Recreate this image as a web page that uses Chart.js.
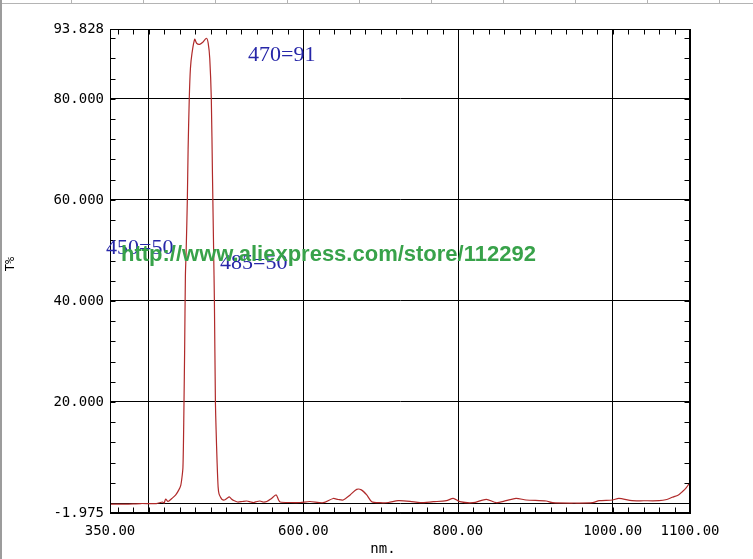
<!DOCTYPE html>
<html>
<head>
<meta charset="utf-8">
<script src="https://cdn.jsdelivr.net/npm/chart.js@4/dist/chart.umd.min.js"></script>
<style>
  body { margin: 0; background: #fff; }
  #wrap { position: relative; width: 753px; height: 559px; overflow: hidden; background: #fff; }
  #strip { position: absolute; left: 0; top: 0; width: 753px; height: 3px; border-bottom: 1px solid #b4b4b4;
    background: repeating-linear-gradient(to right, transparent 0 71px, #b4b4b4 71px 72px); }
  #edge { position: absolute; left: 0; top: 0; width: 2px; height: 559px; background: #9c9c9c; }
  canvas { position: absolute; left: 0; top: 0; }
</style>
</head>
<body>
<div id="wrap">
  <canvas id="chart" width="753" height="559"></canvas>
  <div id="strip"></div>
  <div id="edge"></div>
</div>
<script>
// spectrum (nm, T%)
const wavelengths = [
  350, 370, 390, 410, 418, 420, 422, 425, 430, 435, 439, 441.5, 443, 444.3, 445, 445.7,
  446.5, 447.5, 448.5, 450, 451, 452.5, 454, 456, 459.5, 462, 466, 470, 474.8, 477, 479,
  481, 482.5, 484, 485, 486.3, 487.2, 488.5, 489.8, 491, 492.8, 495, 497.9, 501, 504.3,
  507, 510, 515, 521, 527, 532, 535.6, 540, 544, 548, 552.8, 558, 564.8, 568, 570, 583,
  596, 608.5, 625.7, 638.6, 645, 651.5, 660.5, 669, 675, 682, 688.5, 699, 710, 722.6,
  738, 751, 768, 785, 793.8, 802.4, 819.5, 836.6, 849.5, 862, 875, 888, 914, 922.5, 950,
  974, 982.6, 999.7, 1008, 1025, 1040, 1060, 1070, 1077, 1085, 1090, 1095, 1098.5, 1100
];
const transmittance = [
  -0.2, -0.2, -0.1, -0.1, 0.2, 0.0, 0.8, 0.3, 0.9, 1.6, 2.6, 3.5, 5, 7, 12, 20,
  30, 45, 50, 60, 70, 80, 86, 89, 91.8, 91, 90.8, 91.2, 92, 91, 88,
  80, 65, 50, 40, 20, 14.5, 8, 3.2, 1.8, 1.2, 0.7, 0.6, 0.9, 1.2,
  0.8, 0.5, 0.2, 0.3, 0.4, 0.2, 0.1, 0.3, 0.4, 0.2, 0.3, 0.8, 1.6, 0.6, 0.2, 0.1,
  0.1, 0.3, 0.06, 0.9, 0.7, 0.6, 1.6, 2.7, 2.6, 1.6, 0.26, 0.06, 0.1, 0.46,
  0.33, 0.06, 0.26, 0.46, 0.93, 0.26, 0.06, 0.73, 0.06, 0.46, 0.93, 0.6, 0.4, 0.06, 0.0,
  0.06, 0.46, 0.6, 0.93, 0.46, 0.45, 0.46, 0.7, 1.13, 1.6, 2.24, 3.0, 3.76, 4.2
];

const xTickValues = [350, 400, 600, 800, 1000, 1100];
const xTickLabels = ['350.00', '', '600.00', '800.00', '1000.00', '1100.00'];
const yTickValues = [-1.975, 0, 20, 40, 60, 80, 93.828];
const yTickLabels = ['-1.975', '', '20.000', '40.000', '60.000', '80.000', '93.828'];
const notes = ['470=91', '450=50', '485=50'];
const watermark = 'http://www.aliexpress.com/store/112292';

const tickFont = { family: 'DejaVu Sans Mono', size: 14 };

// frame, small inner ticks and the texts on top
const framePlugin = {
  id: 'frame',
  afterDraw(chart) {
    const { ctx, chartArea: a, scales: { x, y } } = chart;
    ctx.save();
    ctx.strokeStyle = '#000';
    ctx.lineWidth = 1;
    const l = Math.round(a.left) + 0.5, r = Math.round(a.right) - 0.5;
    const t = Math.round(a.top) + 0.5, b = Math.round(a.bottom) - 0.5;
    ctx.strokeRect(l, t, r - l, b - t);

    ctx.beginPath();
    for (let v = 360; v < 1100; v += 20) {
      const px = Math.round(x.getPixelForValue(v)) + 0.5;
      ctx.moveTo(px, t); ctx.lineTo(px, t + 5);
      ctx.moveTo(px, b); ctx.lineTo(px, b - 5);
    }
    for (let v = 4; v < 93; v += 4) {
      const py = Math.round(y.getPixelForValue(v)) + 0.5;
      ctx.moveTo(l, py); ctx.lineTo(l + 5, py);
      ctx.moveTo(r, py); ctx.lineTo(r - 5, py);
    }
    ctx.stroke();

    // axis titles
    ctx.fillStyle = '#000';
    ctx.font = '14px "DejaVu Sans Mono"';
    ctx.textAlign = 'center';
    ctx.textBaseline = 'middle';
    ctx.fillText('nm.', 383, 549);
    ctx.save();
    ctx.translate(11, 264);
    ctx.rotate(-Math.PI / 2);
    ctx.font = '12px "DejaVu Sans Mono"';
    ctx.fillText('T%', 0, 0);
    ctx.restore();

    // peak notes
    ctx.fillStyle = '#2626a8';
    ctx.font = '22px "Liberation Serif"';
    ctx.textAlign = 'left';
    ctx.textBaseline = 'alphabetic';
    ctx.fillText(notes[0], 248, 61);
    ctx.fillText(notes[1], 106, 254);
    ctx.fillText(notes[2], 220, 269);

    // store watermark
    ctx.fillStyle = '#38a24a';
    ctx.font = 'bold 22px "Liberation Sans"';
    ctx.fillText(watermark, 121, 261);
    ctx.restore();
  }
};

new Chart(document.getElementById('chart'), {
  type: 'line',
  data: {
    datasets: [{
      data: wavelengths.map((w, i) => ({ x: w, y: transmittance[i] })),
      borderColor: '#b02a2a',
      borderWidth: 1.2,
      pointRadius: 0,
      tension: 0.25,
      fill: false
    }]
  },
  options: {
    responsive: false,
    animation: false,
    layout: { padding: { left: 0, top: 29, right: 63, bottom: 0 } },
    plugins: { legend: { display: false }, tooltip: { enabled: false } },
    scales: {
      x: {
        type: 'linear',
        min: 350,
        max: 1100,
        afterBuildTicks: s => { s.ticks = xTickValues.map(v => ({ value: v })); },
        afterFit: s => { s.height = 46; },
        grid: { color: '#000', drawTicks: false },
        border: { color: '#000' },
        ticks: {
          color: '#000',
          font: tickFont,
          padding: 10,
          maxRotation: 0,
          autoSkip: false,
          callback: (v, i) => xTickLabels[i]
        }
      },
      y: {
        min: -1.975,
        max: 93.828,
        afterBuildTicks: s => { s.ticks = yTickValues.map(v => ({ value: v })); },
        afterFit: s => { s.width = 110; },
        grid: { color: '#000', drawTicks: false },
        border: { color: '#000' },
        ticks: {
          color: '#000',
          font: tickFont,
          padding: 6,
          autoSkip: false,
          callback: (v, i) => yTickLabels[i]
        }
      }
    }
  },
  plugins: [framePlugin]
});
</script>
</body>
</html>
